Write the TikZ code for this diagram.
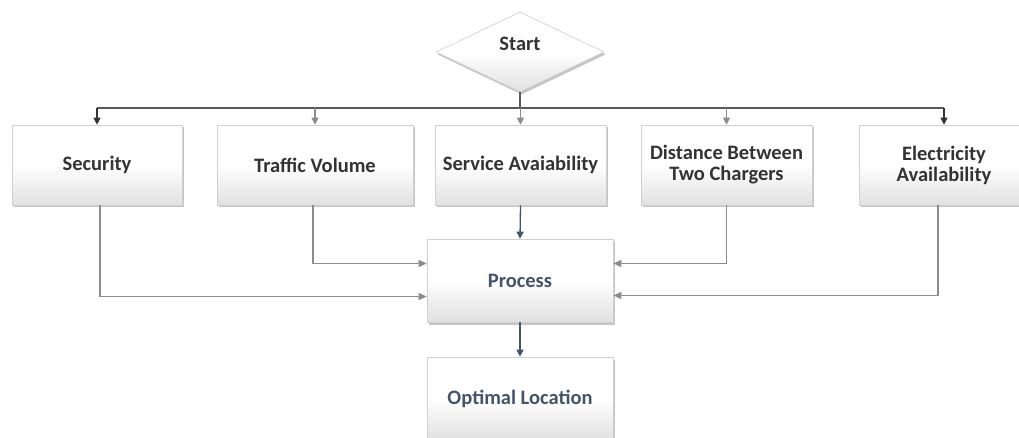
\documentclass[tikz,border=0pt]{standalone}
\usepackage{fontspec}
\setmainfont{Carlito}
\usetikzlibrary{shapes.geometric,arrows.meta,shadows,calc}
\definecolor{txtgray}{HTML}{333333}
\definecolor{navy}{HTML}{44546A}
\definecolor{busgray}{HTML}{595959}
\definecolor{lngray}{HTML}{8C8C8C}
\definecolor{boxline}{HTML}{D0D0D0}
\tikzset{
  boxbase/.style={draw=boxline, line width=0.6pt, top color=white, bottom color=black!12,
    middle color=white, shading angle=0,
    drop shadow={shadow xshift=1.5pt, shadow yshift=-2.5pt, fill=black!45, opacity=0.5},
    align=center, font=\bfseries\fontsize{20.5}{21}\selectfont, inner sep=0pt},
  factor/.style={boxbase, rectangle, minimum height=80pt, text=txtgray},
  procbox/.style={boxbase, rectangle, minimum width=186pt, minimum height=83pt, text=navy},
  startbox/.style={boxbase, diamond, minimum width=168pt, minimum height=80pt, aspect=2.1, text=txtgray, text depth=16pt},
  bus/.style={draw=busgray, line width=1.3pt},
  darkarr/.style={draw=txtgray, line width=1.1pt, -{Triangle[length=7pt,width=7pt]}},
  grayarr/.style={draw=lngray, line width=1.1pt, -{Triangle[length=7pt,width=7pt]}},
  navyarr/.style={draw=navy, line width=1.3pt, -{Triangle[length=7pt,width=7pt]}},
  feed/.style={draw=lngray, line width=1.1pt, -{Triangle[length=8pt,width=7pt]}}
}
\begin{document}
\begin{tikzpicture}[x=1pt,y=-1pt]
\useasboundingbox[fill=white] (0,0) rectangle (1019,438);
\node[startbox] (start) at (520,52) {Start};
\node[factor, minimum width=170pt] (sec) at (97,165) {Security};
\node[factor, minimum width=196pt] (trf) at (315,165) {Traffic Volume};
\node[factor, minimum width=171pt] (srv) at (520.5,165) {Service Avaiability};
\node[factor, minimum width=171pt] (dst) at (726.5,165) {Distance Between\\Two Chargers};
\node[factor, minimum width=170pt] (ele) at (944,165) {Electricity\\Availability};
\node[procbox] (proc) at (520,280.5) {Process};
\node[procbox] (opt) at (520,398.5) {Optimal Location};
\coordinate (bus) at (520,108);
\coordinate (busL) at (sec.north |- bus);
\coordinate (busR) at (ele.north |- bus);
\draw[bus] (start.south) -- (bus);
\draw[bus] (busL) -- (busR);
\draw[darkarr] (busL) -- (sec.north);
\draw[grayarr] (trf.north |- bus) -- (trf.north);
\draw[grayarr] (srv.north |- bus) -- (srv.north);
\draw[grayarr] (dst.north |- bus) -- (dst.north);
\draw[darkarr] (busR) -- (ele.north);
\draw[navyarr] (srv.south) -- (proc.north);
\draw[navyarr] (proc.south) -- (opt.north);
\draw[feed] ($(trf.south)+(-2,0)$) |- ($(proc.west)+(0,-17)$);
\draw[feed] ($(sec.south)+(3,0)$) |- ($(proc.west)+(0,16)$);
\draw[feed] (dst.south) |- ($(proc.east)+(0,-17)$);
\draw[feed] ($(ele.south)+(-6,0)$) |- ($(proc.east)+(0,15)$);
\end{tikzpicture}
\end{document}
